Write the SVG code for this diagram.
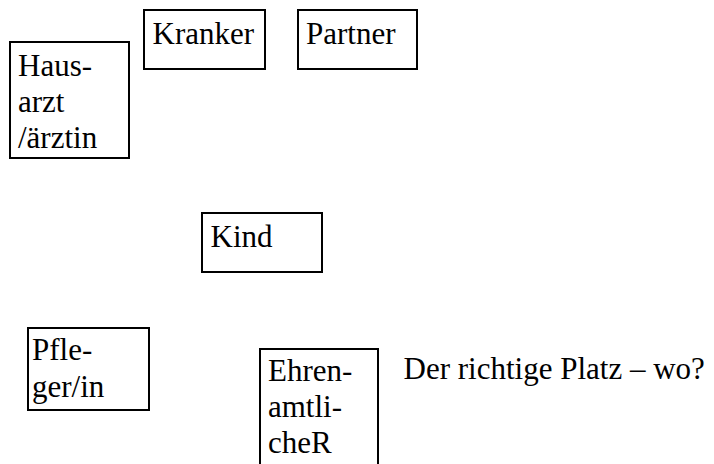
<svg xmlns="http://www.w3.org/2000/svg" width="714" height="464" viewBox="0 0 714 464">
<style>
.box{fill:#fff;stroke:#000;stroke-width:2}
.t{font-family:"Liberation Serif","Times New Roman",serif;font-size:31px;fill:#000}
</style>
<rect width="714" height="464" fill="#fff"/>
<g id="connectors"></g>
<g id="hausarzt">
<rect class="box" x="10" y="42" width="119" height="116"/>
<text class="t" x="18" y="75.5">Haus-</text>
<text class="t" x="18" y="112">arzt</text>
<text class="t" x="18" y="148">/ärztin</text>
</g>
<g id="kranker">
<rect class="box" x="144" y="10" width="121" height="59"/>
<text class="t" x="152.5" y="44">Kranker</text>
</g>
<g id="partner">
<rect class="box" x="298" y="10" width="119" height="59"/>
<text class="t" x="306" y="44">Partner</text>
</g>
<g id="kind">
<rect class="box" x="202" y="213" width="120" height="59"/>
<text class="t" x="210.5" y="246.5">Kind</text>
</g>
<g id="pfleger">
<rect class="box" x="28" y="328" width="121" height="82"/>
<text class="t" x="32" y="360">Pfle-</text>
<text class="t" x="32" y="396.5">ger/in</text>
</g>
<g id="ehrenamtliche">
<rect class="box" x="260" y="349" width="118" height="130"/>
<text class="t" x="268" y="380.5">Ehren-</text>
<text class="t" x="268" y="417">amtli-</text>
<text class="t" x="268" y="453">cheR</text>
</g>
<g id="frage">
<text class="t" x="403.5" y="379">Der richtige Platz – wo?</text>
</g>
</svg>
